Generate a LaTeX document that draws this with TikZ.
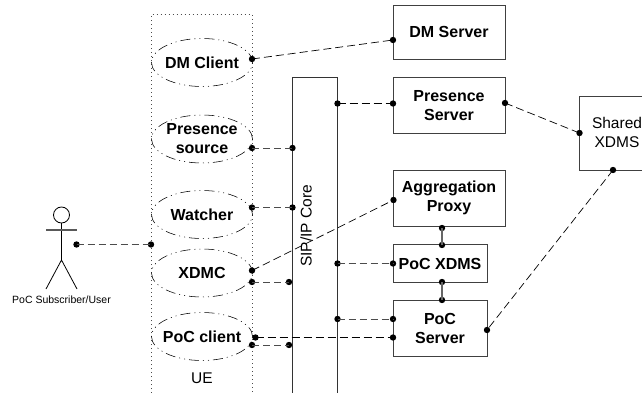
\documentclass[tikz,border=0pt]{standalone}
\usepackage{fontspec}
\setmainfont{Liberation Sans}
\usetikzlibrary{shapes.geometric}
\tikzset{
  every node/.style={inner sep=0pt,outer sep=0pt},
  lbl/.style={font=\fontsize{16}{19}\selectfont\bfseries,align=center},
  reg/.style={font=\fontsize{15.5}{19}\selectfont,align=center},
  uc/.style={ellipse,draw=black,line width=.55pt,inner sep=-14pt,minimum width=101pt,minimum height=48pt,
    dash pattern=on 10pt off 4pt on 1pt off 4pt on 1pt off 4pt,lbl},
  box/.style={draw=black!75,line width=.9pt,lbl,anchor=north west},
  pt/.style={circle,fill=black,minimum size=6.4pt},
  link/.style={draw=black,line width=.7pt,dash pattern=on 8pt off 4pt},
  linkh/.style={draw=black!70,line width=1pt,dash pattern=on 7pt off 4pt},
  bar/.style={draw=black!60,line width=1.6pt},
}
\begin{document}
\begin{tikzpicture}[x=1pt,y=-1pt]
\useasboundingbox[fill=white] (0,0) rectangle (642,393);
% UE group
\draw[black!70,line width=.8pt,dash pattern=on 1pt off 3pt] (151,393) -- (151,14.5) -- (252,14.5) -- (252,393);
\node[reg] (ue) at (202,378) {UE};
% ellipses
\node[uc] (dmc) at (202,62.5) {DM Client};
\node[uc] (pres) at (202,139) {Presence\\source};
\node[uc] (wat) at (202,214.5) {Watcher};
\node[uc] (xdmc) at (202,273) {XDMC};
\node[uc] (pocc) at (202,336.5) {PoC client};
% SIP/IP core
\draw[black!80,line width=.9pt] (292,393) -- (292,77.5) -- (337,77.5) -- (337,393);
\node[font=\fontsize{15.5}{19}\selectfont,rotate=90] (sip) at (306,226) {SIP/IP Core};
% servers
\node[box,minimum width=112pt,minimum height=54pt] (dms) at (393,5) {DM Server};
\node[box,minimum width=112pt,minimum height=56pt] (ps) at (393,77.5) {Presence\\Server};
\node[box,minimum width=112pt,minimum height=56pt] (ap) at (393,170) {Aggregation\\Proxy};
\node[box,minimum width=94pt,minimum height=38pt] (xd) at (393,244.5) {PoC XDMS};
\node[box,minimum width=94pt,minimum height=56pt] (ss) at (393,300) {PoC\\Server};
\draw[black!75,line width=.9pt] (642,96) -- (579.5,96) -- (579.5,170) -- (642,170);
\node[reg] (sh) at (617,132.5) {Shared\\XDMS};
% actor
\draw[black,line width=.8pt] (61.5,215) circle (8);
\draw[black,line width=.8pt] (61.5,223) -- (61.5,260) (46,289) -- (61.5,260) -- (77,289);
\draw[black!65,line width=1.2pt] (46,230) -- (77,230);
\node[font=\fontsize{10.5}{12}\selectfont] (actor) at (61.5,300) {PoC Subscriber/User};
% connection points
\foreach \n/\x/\y in {a/76.5/244.5,b/151/244.5,
  c/252/59,d/393/40,e/337.5/103.5,f/393/103.5,g/252/148,h/292.5/148,
  i/505/103,j/579.5/133,k/613/170,l/487/330,m/252/207.5,n/292.5/207.5,
  o/252/270.5,p/393.5/200,q/252/282,r/289/282,s/337.5/263.5,t/393/263.5,
  u/337.5/319,v/393/319,w/255.5/337.5,x/393/337.5,y/252/345,z/289/345,
  a2/442/228,a3/442/245,a4/442/282,a5/442/300}
  \node[pt] (\n) at (\x,\y) {};
% connectors
\foreach \p/\q in {c/d,e/f,i/j,k/l,o/p,w/x}
  \draw[link] (\p.center) -- (\q.center);
\foreach \p/\q in {a/b,g/h,m/n,q/r,s/t,u/v,y/z}
  \draw[linkh] (\p.center) -- (\q.center);
\draw[bar] (a2.center) -- (a3.center);
\draw[bar] (a4.center) -- (a5.center);
\end{tikzpicture}
\end{document}
